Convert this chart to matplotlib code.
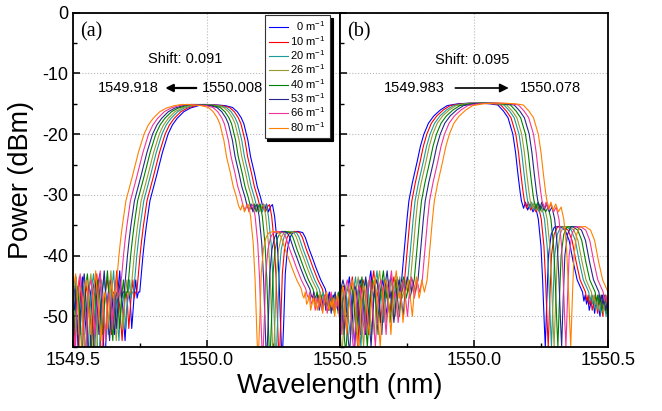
import numpy as np
import matplotlib
matplotlib.use('Agg')
from matplotlib import pyplot as plt
from matplotlib.ticker import MultipleLocator

plt.rcParams['font.family'] = ['Liberation Sans', 'DejaVu Sans']
plt.rcParams['mathtext.fontset'] = 'custom'
plt.rcParams['mathtext.rm'] = 'Liberation Sans'
plt.rcParams['mathtext.default'] = 'regular'
plt.rcParams['axes.unicode_minus'] = False

# curvature labels and colours
labels = ['  0', '10', '20', '26', '40', '53', '66', '80']
colors = ['#0000ff', '#ff0000', '#1a9a9a', '#9a9a30', '#008000', '#26268c', '#f0349a', '#ff8000']

# peak centre of each curve (nm)
centers_a = [1550.008, 1549.997, 1549.985, 1549.975, 1549.962, 1549.950, 1549.935, 1549.918]
centers_b = [1549.983, 1549.994, 1550.006, 1550.016, 1550.030, 1550.044, 1550.060, 1550.078]

# ---- panel (a): 0 m^-1 spectrum ----
floor_a_start = 1549.400
floor_a_db = [-47, -50, -46, -52, -48, -45, -49, -54, -47, -46,
              -50, -48, -43, -47, -51, -46, -45, -48, -53, -47,
              -46, -49, -45, -51, -56, -48, -46, -43.5, -47, -50,
              -53, -48, -45, -46, -49, -52, -57, -50, -47, -44.5,
              -43, -46, -50, -55, -58, -52, -47, -45, -44, -46,
              -49, -53, -50, -47, -45, -42.5, -46, -48, -51, -54,
              -50, -47, -46, -48, -52, -49, -46, -44, -47, -46]
edge_a_wl = [1549.750, 1549.756, 1549.762, 1549.768, 1549.775, 1549.788, 1549.800, 1549.812,
             1549.835, 1549.856, 1549.872, 1549.890, 1549.915, 1549.940, 1549.970, 1550.000,
             1550.040, 1550.070, 1550.097, 1550.115, 1550.130, 1550.140, 1550.155, 1550.165,
             1550.180, 1550.190, 1550.203, 1550.210, 1550.218, 1550.225, 1550.232, 1550.240,
             1550.247, 1550.255, 1550.265, 1550.272, 1550.278, 1550.283, 1550.290, 1550.295,
             1550.303, 1550.313, 1550.322, 1550.340, 1550.360, 1550.370, 1550.385, 1550.397,
             1550.410, 1550.428, 1550.445]
edge_a_db = [-46, -43, -40, -37.5, -35, -31, -29, -27,
             -23, -20, -18.5, -17.4, -16.3, -15.7, -15.3, -15.1,
             -15.2, -15.3, -15.6, -16.3, -17.3, -18.3, -21, -23.7,
             -26.5, -28.6, -30.5, -31.8, -32.5, -31.5, -32.8, -31.9,
             -31.6, -33.5, -38, -44, -52, -58, -50, -43,
             -39, -37, -36.3, -36.0, -36.2, -37, -39, -40.4,
             -42, -44, -45.5]
tail_a_start = 1550.450
tail_a_db = [-46.5, -47, -46, -48, -47.5, -46.5, -49, -48, -47, -48.5,
             -47, -49, -48, -46.5, -47.5, -49.5, -48, -47, -46, -48,
             -49, -47.5, -48.5, -47, -50, -48, -46.5, -47.5, -49, -48, -47]

# ---- panel (b): 0 m^-1 spectrum ----
floor_b_start = 1549.400
floor_b_db = [-48, -51, -47, -45, -46, -49, -53, -50, -47, -45,
              -44, -45, -47, -50, -54, -56, -52, -48, -46, -45,
              -46, -48, -51, -53, -49, -46, -45, -43.5, -46, -49,
              -52, -55, -51, -47, -45, -44, -45, -47, -50, -53,
              -49, -46, -44, -42.5, -45, -47, -46, -48, -51, -49,
              -46, -45, -44, -46, -48, -50, -47, -45, -43.5, -45,
              -47, -46, -44, -45, -46, -45]
edge_b_wl = [1549.730, 1549.740, 1549.750, 1549.757, 1549.770, 1549.788, 1549.800, 1549.813,
             1549.830, 1549.850, 1549.875, 1549.900, 1549.940, 1549.980, 1550.020, 1550.060,
             1550.089, 1550.110, 1550.127, 1550.145, 1550.155, 1550.164, 1550.172, 1550.177,
             1550.185, 1550.192, 1550.200, 1550.210, 1550.220, 1550.230, 1550.240, 1550.250,
             1550.256, 1550.262, 1550.266, 1550.272, 1550.278, 1550.288, 1550.300, 1550.320,
             1550.340, 1550.355, 1550.370, 1550.385, 1550.400]
edge_b_db = [-44, -39, -34, -31, -28, -24.5, -22, -20,
             -18.2, -17, -16, -15.3, -15.0, -14.9, -14.9, -15.0,
             -15.2, -16.2, -17.3, -20, -23, -26.6, -29.5, -31,
             -32.2, -31.2, -32.5, -31.5, -32.8, -32, -34, -38.5,
             -44, -51, -55, -47, -40, -36.5, -35.3, -35.2,
             -35.8, -37.5, -41, -44, -45.5]
tail_b_start = 1550.405
tail_b_db = [-46, -47.5, -46.5, -48, -47, -49, -48, -46.5, -47.5, -49.5,
             -48, -47, -48.5, -50, -48, -46.5, -47.5, -49, -48, -47,
             -49.5, -48, -47, -48.5, -50, -49, -47.5, -48, -49, -47,
             -48.5, -47, -49, -48, -46.5, -47.5, -49, -48, -47, -48]


def build(floor_start, floor_db, edge_wl, edge_db, tail_start, tail_db):
    wl = np.concatenate([floor_start + 0.005 * np.arange(len(floor_db)),
                         np.array(edge_wl),
                         tail_start + 0.005 * np.arange(len(tail_db))])
    db = np.concatenate([floor_db, edge_db, tail_db])
    return wl, db


wl_a, db_a = build(floor_a_start, floor_a_db, edge_a_wl, edge_a_db, tail_a_start, tail_a_db)
wl_b, db_b = build(floor_b_start, floor_b_db, edge_b_wl, edge_b_db, tail_b_start, tail_b_db)

fig = plt.figure(figsize=(6.62, 4.11), dpi=100)
ax_a = fig.add_axes([73 / 662, 1 - 346.7 / 411, 267 / 662, 334 / 411])
ax_b = fig.add_axes([340 / 662, 1 - 346.7 / 411, 268 / 662, 334 / 411])

for k in range(len(labels)):
    ax_a.plot(wl_a + centers_a[k] - centers_a[0], db_a, color=colors[k], lw=0.8,
              label=labels[k] + ' m$^{-1}$')
    ax_b.plot(wl_b + centers_b[k] - centers_b[0], db_b, color=colors[k], lw=0.8)

for ax in (ax_a, ax_b):
    ax.set_xlim(1549.5, 1550.5)
    ax.set_ylim(-55, 0)
    ax.xaxis.set_major_locator(MultipleLocator(0.5))
    ax.xaxis.set_minor_locator(MultipleLocator(0.25))
    ax.yaxis.set_major_locator(MultipleLocator(10))
    ax.yaxis.set_minor_locator(MultipleLocator(5))
    ax.tick_params(which='major', direction='in', length=5, width=1.1, labelsize=13)
    ax.tick_params(which='minor', direction='in', length=3, width=1.0)
    ax.grid(True, which='major', ls=':', color='#b8b8b8', lw=0.8)
    ax.xaxis.set_major_formatter(plt.FuncFormatter(lambda v, p: '%.1f' % v))
    for s in ax.spines.values():
        s.set_linewidth(1.3)

ax_b.tick_params(labelleft=False)
ax_b.set_xticks([1549.5, 1550.0, 1550.5])
ax_b.set_xticklabels(['', '1550.0', '1550.5'])

ax_a.set_ylabel('Power (dBm)', fontsize=19.5, labelpad=6)
fig.text(340 / 662, 1 - 386 / 411, 'Wavelength (nm)', fontsize=19.5, ha='center', va='center')

# panel annotations
ax_a.text(1549.57, -3.1, '(a)', family=['Liberation Serif'], fontsize=14.5, ha='center', va='center')
ax_a.text(1549.92, -7.6, 'Shift: 0.091', fontsize=10.5, ha='center', va='center')
ax_a.text(1549.707, -12.4, '1549.918', fontsize=10.5, ha='center', va='center')
ax_a.text(1550.097, -12.4, '1550.008', fontsize=10.5, ha='center', va='center')
ax_a.annotate('', xy=(1549.835, -12.4), xytext=(1549.972, -12.4),
              arrowprops=dict(arrowstyle='-|>', color='k', lw=1.6, mutation_scale=11))

ax_b.text(1549.571, -3.1, '(b)', family=['Liberation Serif'], fontsize=14.5, ha='center', va='center')
ax_b.text(1549.994, -7.8, 'Shift: 0.095', fontsize=10.5, ha='center', va='center')
ax_b.text(1549.779, -12.4, '1549.983', fontsize=10.5, ha='center', va='center')
ax_b.text(1550.285, -12.4, '1550.078', fontsize=10.5, ha='center', va='center')
ax_b.annotate('', xy=(1550.14, -12.4), xytext=(1549.92, -12.4),
              arrowprops=dict(arrowstyle='-|>', color='k', lw=1.2, mutation_scale=13))

leg = ax_a.legend(loc='upper right', bbox_to_anchor=(330 / 662, 1 - 15 / 411),
                  bbox_transform=fig.transFigure, borderaxespad=0, fontsize=8,
                  fancybox=False, shadow={'color': 'black', 'alpha': 1},
                  handlelength=1.7, handletextpad=0.2, labelspacing=0.05,
                  borderpad=0.4, framealpha=1)
leg.get_frame().set_edgecolor('#333333')
leg.get_frame().set_linewidth(0.8)
leg.set_zorder(10)

fig.savefig('out.png', dpi=100)
